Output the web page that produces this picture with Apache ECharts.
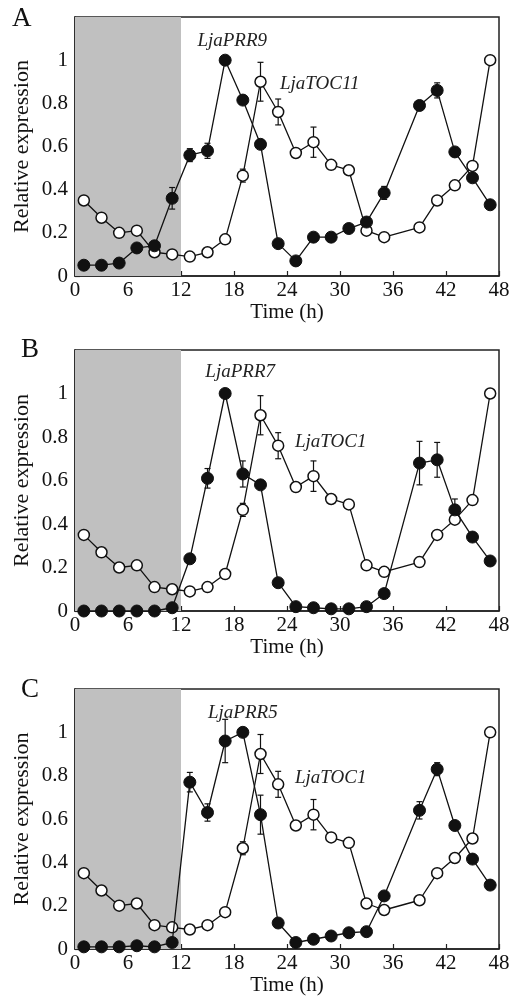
<!DOCTYPE html>
<html><head><meta charset="utf-8">
<script src="https://cdn.jsdelivr.net/npm/echarts@6/dist/echarts.min.js"></script>
<style>html,body{margin:0;padding:0;background:#fff}#c{width:515px;height:998px}</style>
</head><body><div id="c"></div>
<script>
const times = [1,3,5,7,9,11,13,15,17,19,21,23,25,27,29,31,33,35,39,41,43,45,47];
const xTicks = [0,6,12,18,24,30,36,42,48];
const yTickLabels = ['0','0.2','0.4','0.6','0.8','1'];
const toc1 = [0.35,0.27,0.20,0.21,0.11,0.10,0.09,0.11,0.17,0.465,0.90,0.76,0.57,0.62,0.515,0.49,0.21,0.18,0.225,0.35,0.42,0.51,1.0];
const toc1Err = [0,0,0,0,0,0,0,0,0,0.03,0.09,0.06,0,0.07,0.02,0,0,0,0,0,0,0,0];
const prr9 = [0.05,0.05,0.06,0.13,0.14,0.36,0.56,0.58,1.0,0.815,0.61,0.15,0.07,0.18,0.18,0.22,0.25,0.385,0.79,0.86,0.575,0.455,0.33];
const prr9Err = [0,0,0,0,0.02,0.05,0.03,0.035,0,0,0,0,0,0,0,0,0,0.03,0,0.035,0,0,0];
const prr7 = [0,0,0,0,0,0.015,0.24,0.61,1.0,0.63,0.58,0.13,0.02,0.015,0.01,0.01,0.02,0.08,0.68,0.695,0.465,0.34,0.23];
const prr7Err = [0,0,0,0,0,0,0,0.045,0,0.06,0,0,0,0,0,0,0,0,0.1,0.08,0.05,0,0];
const prr5 = [0.01,0.01,0.01,0.015,0.01,0.03,0.77,0.63,0.96,1.0,0.62,0.12,0.03,0.045,0.06,0.075,0.08,0.245,0.64,0.83,0.57,0.415,0.295];
const prr5Err = [0,0,0,0,0,0,0.045,0.04,0.1,0,0.09,0,0,0,0,0,0,0,0.04,0.03,0,0,0];
const panelLetters = ['A','B','C'];
const prrNames = ['LjaPRR9','LjaPRR7','LjaPRR5'];
const tocNames = ['LjaTOC11','LjaTOC1','LjaTOC1'];
const prrSets = [[prr9,prr9Err],[prr7,prr7Err],[prr5,prr5Err]];
const prrLabelPos = [[17.8,1.09],[18.7,1.10],[19.0,1.09]];
const tocLabelPos = [[23.2,0.89],[24.9,0.775],[24.9,0.79]];
const darkPeriod = [0,12];

const serif = '"Liberation Serif","DejaVu Serif",serif';
const grids = [
  {left:75,right:16,top:17,height:259},
  {left:75,right:16,top:350,height:261},
  {left:75,right:16,top:689,height:260}
];
const chart = echarts.init(document.getElementById('c'));
const option = {backgroundColor:'#fff',animation:false,grid:[],xAxis:[],yAxis:[],series:[],graphic:[]};
const letterPos = [[12,5],[21,336],[21,676]];

function errSeries(i, vals, errs){
  const d = [];
  times.forEach((t,k)=>{ if(errs[k]>0) d.push([t, vals[k]-errs[k], vals[k]+errs[k]]); });
  return {type:'custom',xAxisIndex:i,yAxisIndex:i,z:1,data:d,silent:true,
    renderItem:function(params,api){
      const lo = api.coord([api.value(0),api.value(1)]);
      const hi = api.coord([api.value(0),api.value(2)]);
      const w=3;
      const st={stroke:'#111',lineWidth:1.2};
      return {type:'group',children:[
        {type:'line',shape:{x1:lo[0],y1:lo[1],x2:hi[0],y2:hi[1]},style:st},
        {type:'line',shape:{x1:lo[0]-w,y1:lo[1],x2:lo[0]+w,y2:lo[1]},style:st},
        {type:'line',shape:{x1:hi[0]-w,y1:hi[1],x2:hi[0]+w,y2:hi[1]},style:st}
      ]};
    }};
}

for(let i=0;i<3;i++){
  option.grid.push(Object.assign({show:true,borderColor:'#222',borderWidth:1.5,backgroundColor:'transparent'},grids[i]));
  option.xAxis.push({type:'value',gridIndex:i,min:0,max:48,interval:6,
    name:'Time (h)',nameLocation:'middle',nameGap:26,
    nameTextStyle:{fontFamily:serif,fontSize:21,color:'#111'},
    axisLine:{lineStyle:{color:'#222',width:1.5}},
    axisTick:{inside:true,length:5,lineStyle:{color:'#222',width:1.2}},
    axisLabel:{fontFamily:serif,fontSize:21,color:'#111',margin:4,
      formatter:v=>xTicks.includes(v)?String(v):''},
    splitLine:{show:false}});
  option.yAxis.push({type:'value',gridIndex:i,min:0,max:1.2,interval:0.2,
    name:'Relative expression',nameLocation:'middle',nameGap:42,nameMoveOverlap:false,
    nameTextStyle:{fontFamily:serif,fontSize:22,color:'#111'},
    axisLine:{lineStyle:{color:'#222',width:1.5}},
    axisTick:{inside:true,length:5,lineStyle:{color:'#222',width:1.2}},
    axisLabel:{fontFamily:serif,fontSize:21,color:'#111',margin:7,
      formatter:v=>{const k=Math.round(v/0.2);return k<yTickLabels.length?yTickLabels[k]:'';}},
    splitLine:{show:false}});
  const [pv,pe] = prrSets[i];
  option.series.push(errSeries(i,toc1,toc1Err));
  option.series.push(errSeries(i,pv,pe));
  option.series.push({type:'line',xAxisIndex:i,yAxisIndex:i,z:2,
    data:times.map((t,k)=>[t,toc1[k]]),
    symbol:'circle',symbolSize:11,clip:false,
    lineStyle:{color:'#111',width:1.3},
    itemStyle:{color:'#fff',borderColor:'#111',borderWidth:1.5},
    markArea:{silent:true,itemStyle:{color:'#c0c0c0'},data:[[{xAxis:darkPeriod[0]},{xAxis:darkPeriod[1]}]]},
    markPoint:{symbol:'circle',symbolSize:0,silent:true,
      label:{show:true,position:'right',distance:0,fontFamily:serif,fontStyle:'italic',fontSize:19,color:'#222',formatter:tocNames[i]},
      data:[{coord:tocLabelPos[i],value:0}]}
  });
  option.series.push({type:'line',xAxisIndex:i,yAxisIndex:i,z:3,
    data:times.map((t,k)=>[t,pv[k]]),
    symbol:'circle',symbolSize:12,clip:false,
    lineStyle:{color:'#111',width:1.3},
    itemStyle:{color:'#111',borderColor:'#111',borderWidth:1},
    markPoint:{symbol:'circle',symbolSize:0,silent:true,
      label:{show:true,position:'inside',fontFamily:serif,fontStyle:'italic',fontSize:19,color:'#222',formatter:prrNames[i]},
      data:[{coord:prrLabelPos[i],value:0}]}
  });
  option.graphic.push({type:'text',left:letterPos[i][0],top:letterPos[i][1],
    style:{text:panelLetters[i],font:'27px '+serif,fill:'#111'}});
}
chart.setOption(option);
</script></body></html>
